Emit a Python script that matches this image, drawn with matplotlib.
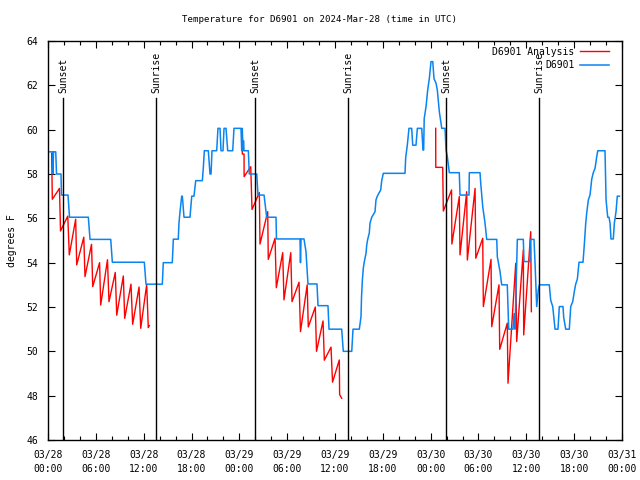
import numpy as np
import matplotlib
matplotlib.use("Agg")
import matplotlib.pyplot as plt

# Observation (hours since 2024-03-28 00:00 UTC, degrees F)
obs_hours = [0, 0.56, 0.63, 0.69, 0.97, 1.07, 1.63, 1.69, 2.51, 2.70, 5.06, 5.27, 7.87, 8.07,
             12.08, 12.29, 14.34, 14.46, 15.59, 15.72, 16.34, 16.43, 16.56, 16.77, 16.85, 17.06,
             17.81, 18.03, 18.31, 18.53, 19.36, 19.48, 19.61, 20.11, 20.32, 20.45, 20.57, 21.16,
             21.32, 21.58, 21.70, 21.95, 22.08, 22.33, 22.54, 23.17, 23.33, 24.21, 24.30, 24.37,
             24.46, 24.52, 24.59, 25.13, 25.25, 26.18, 26.34, 27.10, 27.43, 28.60, 28.66, 31.61,
             31.67, 31.74, 32.11, 32.36, 32.61, 33.74, 33.87, 35.12, 35.25, 36.84, 37.04, 38.10,
             38.26, 39.05, 39.26, 39.33, 39.43, 39.55, 39.68, 39.89, 39.98, 40.10, 40.30, 40.39,
             40.61, 41.02, 41.14, 41.31, 41.73, 41.86, 42.06, 44.78, 44.87, 45.07, 45.28, 45.62,
             45.75, 46.16, 46.33, 46.88, 47.04, 47.12, 47.19, 47.42, 47.63, 47.83, 48.04, 48.26,
             48.42, 48.67, 48.83, 49.09, 49.39, 49.80, 49.93, 50.09, 50.34, 51.59, 51.68, 52.81,
             52.85, 54.19, 54.28, 54.53, 54.82, 55.03, 56.29, 56.36, 56.70, 56.91, 57.61, 57.74,
             57.79, 58.33, 58.46, 58.58, 58.87, 59.62, 59.71, 60.46, 60.50, 60.96, 61.09, 61.30,
             61.50, 61.63, 62.88, 63.06, 63.31, 63.60, 63.97, 64.14, 64.60, 64.69, 64.94, 65.39,
             65.57, 65.82, 66.02, 66.19, 66.40, 66.61, 67.11, 67.27, 67.45, 67.57, 67.78, 67.99,
             68.20, 68.40, 68.62, 68.83, 68.96, 69.87, 70.00, 70.21, 70.37, 70.50, 70.62, 70.91,
             71.04, 71.25, 71.41, 71.67]
obs_temp = [59.0, 59.0, 58.0, 59.0, 59.0, 58.0, 58.0, 57.05, 57.05, 56.05, 56.05, 55.05, 55.05, 54.02,
            54.02, 53.03, 53.03, 54.0, 54.0, 55.06, 55.06, 55.8, 56.3, 57.0, 57.0, 56.05,
            56.05, 57.0, 57.0, 57.7, 57.7, 58.26, 59.05, 59.05, 58.0, 58.0, 59.05, 59.05,
            60.06, 60.06, 59.05, 59.05, 60.06, 60.06, 59.05, 59.05, 60.06, 60.06, 59.05, 60.06,
            59.05, 59.5, 59.05, 59.05, 58.0, 58.0, 57.05, 57.05, 56.05, 56.05, 55.07, 55.07,
            54.0, 55.07, 55.07, 54.5, 53.04, 53.04, 52.06, 52.06, 51.0, 51.0, 50.0, 50.0,
            51.0, 51.0, 51.56, 52.47, 53.2, 53.75, 54.05, 54.42, 54.8, 55.05, 55.33, 55.78,
            56.05, 56.3, 56.83, 57.0, 57.28, 57.7, 58.03, 58.03, 58.75, 59.3, 60.06, 60.06,
            59.3, 59.3, 60.06, 60.06, 59.08, 59.08, 60.5, 61.04, 61.8, 62.3, 63.07, 63.07,
            62.3, 62.1, 61.8, 60.8, 60.06, 60.06, 59.08, 58.78, 58.06, 58.06, 57.05, 57.05,
            58.06, 58.06, 57.58, 56.53, 55.78, 55.05, 55.05, 54.27, 53.6, 53.0, 53.0, 51.5,
            51.0, 51.0, 51.7, 51.0, 55.05, 55.05, 54.05, 54.05, 55.05, 55.05, 54.0, 52.02,
            52.77, 53.0, 53.0, 52.3, 52.02, 51.0, 51.0, 52.02, 52.02, 51.52, 51.0, 51.0,
            52.02, 52.24, 52.7, 53.03, 53.26, 54.02, 54.02, 54.8, 55.78, 56.23, 56.83, 57.05,
            57.76, 58.06, 58.26, 58.78, 59.05, 59.05, 56.83, 56.05, 56.05, 55.78, 55.07, 55.07,
            55.78, 56.3, 57.0, 57.0]

# Analysis (NaN separates the daily runs)
ana_hours = [0.46, 0.54, 1.44, 1.57, 2.48, 2.67, 3.47, 3.60, 4.49, 4.64, 5.46, 5.61, 6.47, 6.61,
             7.46, 7.65, 8.44, 8.62, 9.45, 9.62, 10.41, 10.62, 11.42, 11.63, 12.38, 12.58, 12.71,
             np.nan,
             24.37, 24.38, 24.59, 24.60, 25.43, 25.59, 26.51, 26.59, 27.56, 27.63, 28.48, 28.64,
             29.44, 29.60, 30.45, 30.61, 31.49, 31.67, 32.51, 32.65, 33.53, 33.68, 34.50, 34.66,
             35.50, 35.69, 36.54, 36.58, 36.84,
             np.nan,
             48.63, 48.64, 49.51, 49.59, 50.62, 50.66, 51.59, 51.68, 52.52, 52.60, 53.57, 53.66,
             54.53, 54.61, 55.57, 55.66, 56.57, 56.66, 57.61, 57.70, 58.67, 58.79, 59.62, 59.67,
             60.55, 60.63]
ana_temp = [58.93, 56.86, 57.35, 55.43, 56.1, 54.35, 55.96, 53.9, 55.15, 53.37, 54.83, 52.92, 54.0, 52.09,
            54.13, 52.24, 53.56, 51.63, 53.4, 51.49, 53.03, 51.22, 52.9, 51.04, 53.02, 51.07, 51.16,
            np.nan,
            59.57, 58.9, 58.9, 57.88, 58.33, 56.4, 57.16, 54.84, 56.3, 54.15, 55.1, 52.87,
            54.45, 52.32, 54.45, 52.24, 53.12, 50.89, 53.0, 51.1, 52.0, 50.0, 51.37, 49.6,
            50.19, 48.61, 49.61, 48.05, 47.88,
            np.nan,
            60.06, 58.3, 58.3, 56.33, 57.28, 54.84, 56.98, 54.35, 57.2, 54.12, 57.35, 54.2,
            55.1, 52.02, 54.15, 51.11, 53.0, 50.09, 51.27, 48.56, 53.97, 50.44, 54.57, 50.74,
            55.4, 51.79]

sun_hours = [1.92, 13.55, 25.98, 37.63, 49.95, 61.61]
sun_labels = ["Sunset", "Sunrise", "Sunset", "Sunrise", "Sunset", "Sunrise"]

xtick_hours = list(range(0, 73, 6))
xtick_labels = ["03/28\n00:00", "03/28\n06:00", "03/28\n12:00", "03/28\n18:00",
                "03/29\n00:00", "03/29\n06:00", "03/29\n12:00", "03/29\n18:00",
                "03/30\n00:00", "03/30\n06:00", "03/30\n12:00", "03/30\n18:00",
                "03/31\n00:00"]
yticks = list(range(46, 65, 2))

FS = 6.6
plt.rcParams['font.family'] = ['DejaVu Sans Mono']
plt.rcParams['font.size'] = FS

fig = plt.figure(figsize=(6.4, 4.8), dpi=100)
ax = fig.add_axes([48/640, 1 - 440/480, 574/640, 399/480])

ax.plot(ana_hours, ana_temp, color='#ff0000', lw=1.0, label='D6901 Analysis')
ax.plot(obs_hours, obs_temp, color='#0a84f0', lw=1.1, label='D6901')

line_top = 0.857
for h, lab in zip(sun_hours, sun_labels):
    ax.axvline(h, ymin=0, ymax=line_top, color='black', lw=1.0)
    ax.text(h, line_top + 0.012, lab, rotation=90, ha='center', va='bottom',
            transform=ax.get_xaxis_transform(), fontsize=FS + 0.4)

ax.set_xlim(0, 72)
ax.set_ylim(46, 64)
ax.set_xticks(xtick_hours)
ax.set_xticklabels(xtick_labels, linespacing=1.5)
ax.set_xticks(list(range(0, 73, 2)), minor=True)
ax.set_yticks(yticks)
ax.tick_params(which='both', direction='in', top=True, right=True, width=0.8, labelsize=FS + 0.4)
ax.tick_params(which='major', length=5, pad=7)
ax.tick_params(which='minor', length=3)
for s in ax.spines.values():
    s.set_linewidth(1.0)

ax.set_ylabel('degrees F', labelpad=7, fontsize=FS + 0.4)
fig.text(0.5, 1 - 20/480, 'Temperature for D6901 on 2024-Mar-28 (time in UTC)',
         ha='center', va='center', fontsize=FS)

leg = ax.legend(loc='upper right', frameon=False, markerfirst=False, handlelength=3.0,
                borderaxespad=0.2, labelspacing=0.35, handletextpad=0.6,
                bbox_to_anchor=(0.988, 1.0), fontsize=FS + 0.4)
for t in leg.get_texts():
    t.set_ha('right')

fig.savefig('out.png', dpi=100)
